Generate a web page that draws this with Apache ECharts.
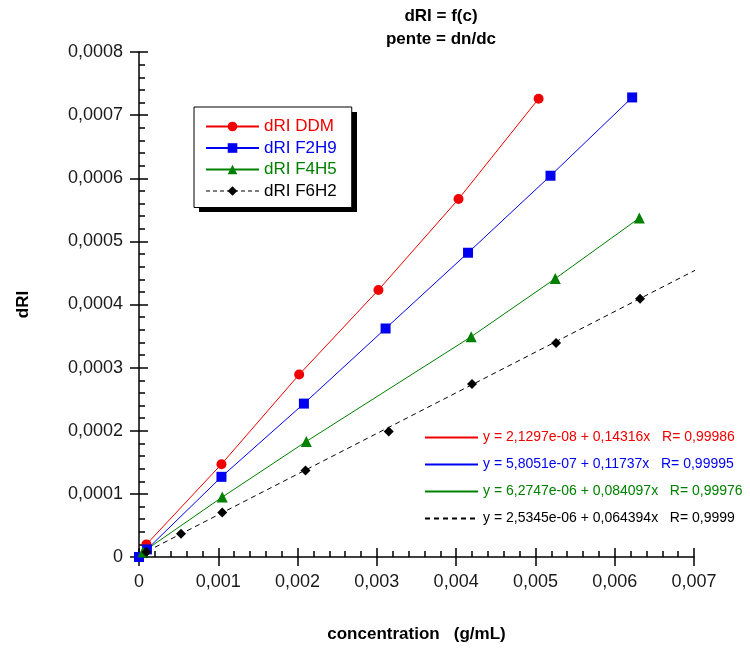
<!DOCTYPE html>
<html><head><meta charset="utf-8">
<script src="https://cdn.jsdelivr.net/npm/echarts@6/dist/echarts.min.js"></script>
<style>html,body{margin:0;padding:0;background:#fff}#c{width:750px;height:648px}</style>
</head><body><div id="c"></div>
<script>
// ---- data ----
const seriesNames = ['dRI DDM', 'dRI F2H9', 'dRI F4H5', 'dRI F6H2'];
const xDDM  = [0.000094, 0.00104, 0.00202, 0.00302, 0.00403, 0.00504];
const yDDM  = [0.00002, 0.000147, 0.000289, 0.000423, 0.000567, 0.000726];
const xF2H9 = [0, 0.0001, 0.00104, 0.00208, 0.00311, 0.00415, 0.00519, 0.00622];
const yF2H9 = [0, 0.000012, 0.000127, 0.000243, 0.000362, 0.000482, 0.000604, 0.000728];
const xF4H5 = [0.00005, 0.00105, 0.00211, 0.00419, 0.00525, 0.00631];
const yF4H5 = [0.0000079, 0.0000949, 0.000183, 0.000349, 0.000441, 0.000537];
const xF6H2 = [0.000094, 0.00053, 0.00105, 0.0021, 0.00315, 0.0042, 0.00526, 0.00632];
const yF6H2 = [0.0000079, 0.000037, 0.0000703, 0.000137, 0.000199, 0.000274, 0.000339, 0.000409];

const xTickLabels = ['0', '0,001', '0,002', '0,003', '0,004', '0,005', '0,006', '0,007'];
const yTickLabels = ['0', '0,0001', '0,0002', '0,0003', '0,0004', '0,0005', '0,0006', '0,0007', '0,0008'];

const fitIntercepts = [2.1297e-08, 5.8051e-07, 6.2747e-06, 2.5345e-06];
const fitSlopes = [0.14316, 0.11737, 0.084097, 0.064394];
const fitLabels = [
  'y = 2,1297e-08 + 0,14316x   R= 0,99986',
  'y = 5,8051e-07 + 0,11737x   R= 0,99995',
  'y = 6,2747e-06 + 0,084097x   R= 0,99976',
  'y = 2,5345e-06 + 0,064394x   R= 0,9999'
];
const blackFitRange = [0, 0.00702];

const titleLines = ['dRI = f(c)', 'pente = dn/dc'];
const xName = 'concentration   (g/mL)';
const yName = 'dRI';

// ---- build ----
const colors = ['#f00000', '#0000f0', '#008000', '#000000'];
const symbols = ['circle', 'rect', 'triangle', 'diamond'];
const symbolSizes = [10, 10, 11, 10];
const xs = [xDDM, xF2H9, xF4H5, xF6H2];
const ys = [yDDM, yF2H9, yF4H5, yF6H2];
const FONT = 'Liberation Sans, Arial, sans-serif';

const dataSeries = seriesNames.map((n, i) => ({
  name: n, type: 'line', xAxisIndex: 0, yAxisIndex: 0,
  data: xs[i].map((x, k) => [x, ys[i][k]]),
  symbol: symbols[i], symbolSize: symbolSizes[i], showSymbol: true,
  itemStyle: { color: colors[i] },
  lineStyle: { color: colors[i], width: 1, opacity: i === 3 ? 0 : 1 },
  z: 3, animation: false
}));
const fitSeries = fitLabels.map((n, i) => ({
  name: n, type: 'line', xAxisIndex: 0, yAxisIndex: 0,
  data: i === 3 ? blackFitRange.map(x => [x, fitIntercepts[i] + fitSlopes[i] * x]) : [],
  symbol: 'none',
  itemStyle: { color: colors[i] },
  lineStyle: { color: colors[i], width: 1, type: i === 3 ? [5, 4] : 'solid' },
  z: 2, animation: false
}));

const axisCommonX = { type: 'value', min: 0, max: 0.007, interval: 0.001, position: 'bottom' };
const axisCommonY = { type: 'value', min: 0, max: 0.0008, interval: 0.0001, position: 'left' };
const lineBlack = { color: '#000', width: 1.5 };

const option = {
  animation: false,
  backgroundColor: '#fff',
  grid: { left: 139, right: 56, top: 52, bottom: 91 },
  graphic: [
    { type: 'text', x: 441, y: 16, style: { text: titleLines[0], font: 'bold 17px ' + FONT, align: 'center', verticalAlign: 'middle', fill: '#000' } },
    { type: 'text', x: 441, y: 39, style: { text: titleLines[1], font: 'bold 17px ' + FONT, align: 'center', verticalAlign: 'middle', fill: '#000' } },
    // legend box drop shadow
    { type: 'rect', z: 1, shape: { x: 199, y: 112, width: 158, height: 100 }, style: { fill: '#000' } }
  ],
  xAxis: [
    Object.assign({}, axisCommonX, {
      axisLine: { show: true, onZero: false, lineStyle: lineBlack },
      axisTick: { show: true, inside: false, length: 9, lineStyle: lineBlack },
      minorTick: { show: false },
      splitLine: { show: false },
      axisLabel: { margin: 16, color: '#1a1a1a', fontSize: 18, fontFamily: FONT,
        formatter: v => xTickLabels[Math.round(v / 0.001)] },
      name: xName, nameLocation: 'middle', nameGap: 69,
      nameTextStyle: { fontWeight: 'bold', fontSize: 17, fontFamily: FONT, color: '#000' }
    }),
    Object.assign({}, axisCommonX, {
      axisLine: { show: false, onZero: false },
      axisTick: { show: true, inside: true, length: 9, lineStyle: lineBlack },
      minorTick: { show: true, splitNumber: 5, length: 6, lineStyle: { color: '#000', width: 1.5 } },
      splitLine: { show: false },
      axisLabel: { show: false }
    })
  ],
  yAxis: [
    Object.assign({}, axisCommonY, {
      axisLine: { show: true, onZero: false, lineStyle: lineBlack },
      axisTick: { show: true, inside: false, length: 9, lineStyle: lineBlack },
      minorTick: { show: false },
      splitLine: { show: false },
      axisLabel: { margin: 16, color: '#1a1a1a', fontSize: 18, fontFamily: FONT,
        formatter: v => yTickLabels[Math.round(v / 0.0001)] },
      name: yName, nameLocation: 'middle', nameGap: 107, nameRotate: 90,
      nameTextStyle: { fontWeight: 'bold', fontSize: 17, fontFamily: FONT, color: '#000' }
    }),
    Object.assign({}, axisCommonY, {
      axisLine: { show: false, onZero: false },
      axisTick: { show: true, inside: true, length: 9, lineStyle: lineBlack },
      minorTick: { show: true, splitNumber: 5, length: 6, lineStyle: { color: '#000', width: 1.5 } },
      splitLine: { show: false },
      axisLabel: { show: false }
    })
  ],
  legend: [
    {
      orient: 'vertical', left: 194, top: 107, padding: [11, 15, 8, 11],
      borderColor: '#000', borderWidth: 1, backgroundColor: '#fff', z: 5,
      itemWidth: 53, itemHeight: 12, itemGap: 4.5, selectedMode: false,
      textStyle: { fontFamily: FONT, fontSize: 17, lineHeight: 17 },
      data: seriesNames.map((n, i) => {
        const d = { name: n, textStyle: { color: colors[i] } };
        if (i === 3) d.lineStyle = { color: '#000', width: 1, type: [4, 3], opacity: 1 };
        return d;
      })
    },
    {
      orient: 'vertical', left: 424, top: 430, padding: 0,
      itemWidth: 53, itemHeight: 12, itemGap: 12, selectedMode: false,
      itemStyle: { opacity: 0 },
      textStyle: { fontFamily: FONT, fontSize: 14, lineHeight: 15 },
      data: fitLabels.map((n, i) => ({ name: n, textStyle: { color: colors[i] } }))
    }
  ],
  series: dataSeries.concat(fitSeries)
};

const chart = echarts.init(document.getElementById('c'), null, { renderer: 'canvas' });
chart.setOption(option);
</script>
</body></html>
